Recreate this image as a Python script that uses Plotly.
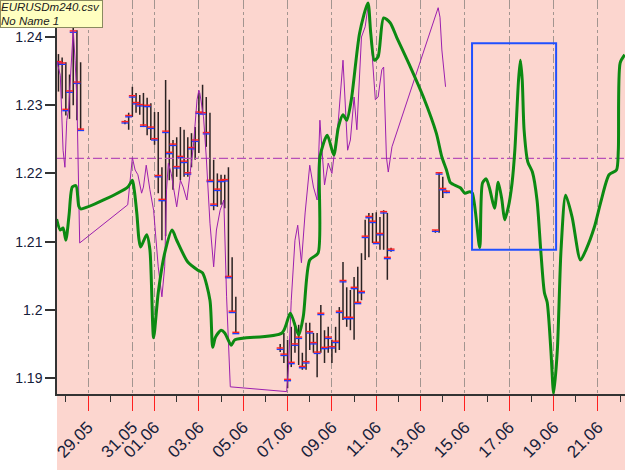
import plotly.graph_objects as go
import pandas as pd

# ---------------- data ----------------
# 4-hour bar sessions: (first bar time, number of bars)
BAR_SESSIONS = [("2010-05-27 16:00", 7), ("2010-05-30 16:00", 31),
                ("2010-06-06 16:00", 31), ("2010-06-13 16:00", 4)]

HIGH = [1.2375, 1.2370, 1.2363, 1.2345, 1.2418, 1.2410, 1.2363,
        1.2278, 1.2289, 1.2327, 1.2318, 1.2315, 1.2318, 1.2311, 1.2303, 1.2290, 1.2290,
        1.2209, 1.2337, 1.2308, 1.2249, 1.2253, 1.2268, 1.2264, 1.2253, 1.2259, 1.2268,
        1.2318, 1.2330, 1.2312, 1.2289, 1.2220, 1.2200, 1.2198, 1.2198, 1.2209, 1.2077, 1.2019,
        1.1950, 1.1966, 1.1956, 1.1975, 1.1981, 1.1978, 1.1937, 1.1981, 1.1981, 1.1966,
        1.1966, 1.2007, 1.1970, 1.1975, 1.1956, 1.1975, 1.2004, 1.2070, 1.2033, 1.2029,
        1.2048, 1.2063, 1.2083, 1.2132, 1.2142, 1.2142, 1.2143, 1.2136, 1.2146, 1.2142, 1.2091,
        1.2117, 1.2202, 1.2195, 1.2175]
LOW = [1.2320, 1.2310, 1.2285, 1.2280, 1.2300, 1.2278, 1.2264,
       1.2272, 1.2264, 1.2283, 1.2289, 1.2286, 1.2268, 1.2256, 1.2249, 1.2242, 1.2171,
       1.2102, 1.2108, 1.2190, 1.2176, 1.2195, 1.2190, 1.2195, 1.2195, 1.2209, 1.2220,
       1.2230, 1.2289, 1.2239, 1.2190, 1.2146, 1.2151, 1.2154, 1.2149, 1.2048, 1.1997, 1.1966,
       1.1938, 1.1922, 1.1885, 1.1916, 1.1937, 1.1919, 1.1912, 1.1912, 1.1941, 1.1937,
       1.1901, 1.1937, 1.1922, 1.1937, 1.1922, 1.1937, 1.1941, 1.1985, 1.1975, 1.1970,
       1.1956, 1.2010, 1.2014, 1.2073, 1.2077, 1.2098, 1.2098, 1.2088, 1.2088, 1.2044, 1.2085,
       1.2113, 1.2113, 1.2164, 1.2171]
CLOSE = [1.2363, 1.2361, 1.2293, 1.2320, 1.2408, 1.2333, 1.2264,
         1.2275, 1.2284, 1.2313, 1.2303, 1.2300, 1.2270, 1.2299, 1.2267, 1.2250, 1.2196,
         1.2161, 1.2261, 1.2230, 1.2242, 1.2209, 1.2224, 1.2217, 1.2200, 1.2237, 1.2248,
         1.2289, 1.2288, 1.2259, 1.2189, 1.2154, 1.2176, 1.2189, 1.2190, 1.2048, 1.1997, 1.1966,
         1.1943, 1.1934, 1.1897, 1.1922, 1.1949, 1.1959, 1.1916, 1.1923, 1.1967, 1.1951,
         1.1937, 1.1994, 1.1944, 1.1959, 1.1945, 1.1953, 1.1997, 1.2042, 1.1988, 1.1988,
         1.2032, 1.2010, 1.2026, 1.2107, 1.2136, 1.2129, 1.2098, 1.2111, 1.2143, 1.2076, 1.2088,
         1.2116, 1.2200, 1.2177, 1.2173]

PURPLE_T = ["2010-05-27 14:00", "2010-05-27 18:00", "2010-05-27 21:00", "2010-05-27 23:00",
            "2010-05-28 01:00", "2010-05-28 03:00", "2010-05-28 05:00", "2010-05-28 07:00",
            "2010-05-28 08:00", "2010-05-28 10:00", "2010-05-28 12:00", "2010-05-28 15:00",
            "2010-05-30 19:00", "2010-05-31 00:00", "2010-05-31 03:00", "2010-05-31 06:00",
            "2010-05-31 10:00", "2010-05-31 12:00", "2010-05-31 15:00", "2010-05-31 19:00",
            "2010-05-31 23:00", "2010-06-01 04:00", "2010-06-01 08:00", "2010-06-01 11:00",
            "2010-06-01 13:00", "2010-06-01 15:00", "2010-06-01 18:00", "2010-06-02 00:00",
            "2010-06-02 04:00", "2010-06-02 07:00", "2010-06-02 11:00", "2010-06-02 14:00",
            "2010-06-02 18:00", "2010-06-02 22:00", "2010-06-03 00:00", "2010-06-03 01:00",
            "2010-06-03 05:00", "2010-06-03 08:00", "2010-06-03 12:00", "2010-06-03 16:00",
            "2010-06-03 19:00", "2010-06-03 23:00", "2010-06-04 03:00", "2010-06-04 06:00",
            "2010-06-04 10:00", "2010-06-06 23:00", "2010-06-07 01:00", "2010-06-07 04:00",
            "2010-06-07 08:00", "2010-06-07 11:00", "2010-06-07 15:00", "2010-06-07 19:00",
            "2010-06-08 00:00", "2010-06-08 04:00", "2010-06-08 08:00", "2010-06-08 11:00",
            "2010-06-08 13:00", "2010-06-08 16:00", "2010-06-08 20:00", "2010-06-09 00:00",
            "2010-06-09 03:00", "2010-06-09 07:00", "2010-06-09 12:00", "2010-06-09 14:00",
            "2010-06-09 17:00", "2010-06-09 20:00", "2010-06-10 00:00", "2010-06-10 03:00",
            "2010-06-10 08:00", "2010-06-10 12:00", "2010-06-10 15:00", "2010-06-10 19:00",
            "2010-06-10 23:00", "2010-06-11 02:00", "2010-06-11 06:00", "2010-06-11 08:00",
            "2010-06-11 09:00", "2010-06-11 11:00", "2010-06-11 13:00", "2010-06-11 17:00",
            "2010-06-13 19:00", "2010-06-13 21:00", "2010-06-13 23:00", "2010-06-14 03:00"]
PURPLE_V = [1.2366, 1.2344, 1.2234, 1.2209, 1.2278, 1.2293, 1.2341, 1.2396,
            1.2410, 1.2366, 1.2308, 1.2098,
            1.2154, 1.2223, 1.2205, 1.2198, 1.2171, 1.2180, 1.2212, 1.2176,
            1.2146, 1.2063, 1.2019, 1.2063, 1.2176, 1.2215, 1.2200, 1.2151,
            1.2190, 1.2180, 1.2161, 1.2195, 1.2239, 1.2308, 1.2322, 1.2318,
            1.2283, 1.2224, 1.2127, 1.2063, 1.2117, 1.2146, 1.2161, 1.2019,
            1.1887, 1.1880, 1.1916, 1.2014, 1.2102, 1.2124, 1.2069, 1.2142,
            1.2212, 1.2180, 1.2161, 1.2278, 1.2234, 1.2183, 1.2215, 1.2200,
            1.2234, 1.2278, 1.2366, 1.2318, 1.2234, 1.2249, 1.2312, 1.2264,
            1.2400, 1.2415, 1.2444, 1.2385, 1.2308, 1.2312, 1.2352, 1.2356,
            1.2308, 1.2224, 1.2202, 1.2239, 1.2443, 1.2429, 1.2381, 1.2327]

GREEN_T = ["2010-05-27 14:00", "2010-05-27 18:00", "2010-05-27 21:00", "2010-05-28 00:00",
           "2010-05-28 03:30", "2010-05-28 07:00", "2010-05-28 11:00", "2010-05-28 14:00",
           "2010-05-28 16:00", "2010-05-30 19:00", "2010-05-31 00:00", "2010-05-31 02:00",
           "2010-05-31 05:00", "2010-05-31 07:00", "2010-05-31 09:00", "2010-05-31 15:30",
           "2010-05-31 19:00", "2010-05-31 23:00", "2010-06-01 04:00", "2010-06-01 11:00",
           "2010-06-01 19:00", "2010-06-02 00:00", "2010-06-02 12:00", "2010-06-02 23:00",
           "2010-06-03 04:00", "2010-06-03 12:00", "2010-06-03 15:00", "2010-06-03 18:00",
           "2010-06-04 00:00", "2010-06-04 04:00", "2010-06-04 11:00", "2010-06-04 15:00",
           "2010-06-06 18:00", "2010-06-07 03:00", "2010-06-07 12:00", "2010-06-07 17:00",
           "2010-06-08 00:00", "2010-06-08 09:00", "2010-06-08 11:00", "2010-06-08 19:00",
           "2010-06-09 02:00", "2010-06-09 07:00", "2010-06-09 12:00", "2010-06-09 16:00",
           "2010-06-09 21:00", "2010-06-10 06:00", "2010-06-10 15:00", "2010-06-10 18:00",
           "2010-06-10 22:00", "2010-06-11 02:00", "2010-06-11 08:00", "2010-06-11 15:00",
           "2010-06-11 22:00", "2010-06-12 13:00", "2010-06-13 03:00", "2010-06-13 17:00",
           "2010-06-13 23:00", "2010-06-14 04:00", "2010-06-14 08:00", "2010-06-14 11:00",
           "2010-06-14 19:00", "2010-06-15 00:00", "2010-06-15 05:00", "2010-06-15 08:00",
           "2010-06-15 16:00", "2010-06-15 19:00", "2010-06-15 23:00", "2010-06-16 03:00",
           "2010-06-16 08:00", "2010-06-16 12:00", "2010-06-16 16:00", "2010-06-16 19:00",
           "2010-06-16 23:00", "2010-06-17 03:00", "2010-06-17 06:00", "2010-06-17 10:00",
           "2010-06-17 12:00", "2010-06-17 14:00", "2010-06-17 16:00", "2010-06-17 20:00",
           "2010-06-18 01:00", "2010-06-18 06:00", "2010-06-18 10:00", "2010-06-18 14:00",
           "2010-06-18 17:00", "2010-06-18 21:00", "2010-06-19 00:00", "2010-06-19 04:00",
           "2010-06-19 08:00", "2010-06-19 13:00", "2010-06-19 20:00", "2010-06-20 05:00",
           "2010-06-20 11:00", "2010-06-20 20:00", "2010-06-21 03:00", "2010-06-21 12:00",
           "2010-06-21 20:00", "2010-06-21 22:00", "2010-06-22 00:00", "2010-06-22 05:00"]
GREEN_V = [1.2133, 1.2117, 1.2120, 1.2102, 1.2139, 1.2180, 1.2182, 1.2152,
           1.2148, 1.2180, 1.2190, 1.2176, 1.2139, 1.2105, 1.2092, 1.2110,
           1.2088, 1.1959, 1.2025, 1.2083, 1.2117, 1.2102, 1.2070, 1.2058,
           1.2054, 1.2014, 1.1945, 1.1960, 1.1970, 1.1966, 1.1948, 1.1956,
           1.1966, 1.1995, 1.1963, 1.1990, 1.2073, 1.2083, 1.2224, 1.2256,
           1.2227, 1.2268, 1.2286, 1.2278, 1.2308, 1.2406, 1.2450, 1.2406,
           1.2366, 1.2371, 1.2428, 1.2421, 1.2400, 1.2356, 1.2312, 1.2259,
           1.2224, 1.2205, 1.2187, 1.2184, 1.2179, 1.2171, 1.2173, 1.2171,
           1.2091, 1.2186, 1.2192, 1.2176, 1.2149, 1.2187, 1.2161, 1.2132,
           1.2151, 1.2186, 1.2234, 1.2337, 1.2366, 1.2337, 1.2264, 1.2217,
           1.2202, 1.2161, 1.2088, 1.2025, 1.2011, 1.1941, 1.1877, 1.1941,
           1.2088, 1.2168, 1.2136, 1.2073, 1.2088, 1.2121, 1.2158, 1.2198,
           1.2205, 1.2234, 1.2362, 1.2374]

LEVEL = 1.2222
BOX_T = ("2010-06-15 07:40", "2010-06-19 02:40")
BOX_V = (1.2088, 1.2391)

MAJOR_DATES = ["2010-05-29", "2010-05-31", "2010-06-01", "2010-06-03", "2010-06-05",
               "2010-06-07", "2010-06-09", "2010-06-11", "2010-06-13", "2010-06-15",
               "2010-06-17", "2010-06-19", "2010-06-21"]
MAJOR_LABELS = ["29.05", "31.05", "01.06", "03.06", "05.06", "07.06", "09.06",
                "11.06", "13.06", "15.06", "17.06", "19.06", "21.06"]
MINOR_DATES = ["2010-05-28", "2010-05-30", "2010-06-02", "2010-06-04", "2010-06-06",
               "2010-06-08", "2010-06-10", "2010-06-12", "2010-06-14", "2010-06-16",
               "2010-06-18", "2010-06-20", "2010-06-22"]
Y_TICKS = [1.19, 1.20, 1.21, 1.22, 1.23, 1.24]
Y_LABELS = ["1.19", "1.2", "1.21", "1.22", "1.23", "1.24"]

X_RANGE = ["2010-05-27 14:26", "2010-06-22 05:14"]
Y_RANGE = [1.18765, 1.24543]

# ---------------- figure ----------------
PINK = "#fcd6cf"
bar_times = []
for start, n in BAR_SESSIONS:
    bar_times += list(pd.date_range(start, periods=n, freq="4h"))

fig = go.Figure()

bx, by = [], []
for t, h, l in zip(bar_times, HIGH, LOW):
    bx += [t, t, None]
    by += [l, h, None]
fig.add_trace(go.Scatter(x=bx, y=by, mode="lines", line=dict(color="#2a2222", width=1.5),
                         hoverinfo="skip", showlegend=False))

TICK_SPLIT = 0.0001
fig.add_trace(go.Scatter(x=bar_times, y=[c - TICK_SPLIT for c in CLOSE], mode="markers",
                         marker=dict(symbol="line-ew", size=5, line=dict(color="#1f3cff", width=1.4)),
                         hoverinfo="skip", showlegend=False))
fig.add_trace(go.Scatter(x=bar_times, y=[c + TICK_SPLIT for c in CLOSE], mode="markers",
                         marker=dict(symbol="line-ew", size=5, line=dict(color="#ff2020", width=1.4)),
                         hoverinfo="skip", showlegend=False))

fig.add_trace(go.Scatter(x=X_RANGE, y=[LEVEL, LEVEL], mode="lines",
                         line=dict(color="#b850b8", width=1.3, dash="dashdot"),
                         hoverinfo="skip", showlegend=False))

fig.add_trace(go.Scatter(x=PURPLE_T, y=PURPLE_V, mode="lines",
                         line=dict(color="#9c1fae", width=1),
                         hoverinfo="skip", showlegend=False))
fig.add_trace(go.Scatter(x=GREEN_T, y=GREEN_V, mode="lines",
                         line=dict(color="#0c8a12", width=3, shape="spline", smoothing=0.7),
                         hoverinfo="skip", showlegend=False))

fig.add_shape(type="rect", xref="x", yref="y", x0=BOX_T[0], x1=BOX_T[1],
              y0=BOX_V[0], y1=BOX_V[1], line=dict(color="#2050ff", width=2), layer="above")

# pink band under the plot for the date labels
fig.add_shape(type="rect", xref="paper", yref="paper", x0=0, x1=1, y0=-0.2, y1=0,
              fillcolor=PINK, line=dict(width=0), layer="below")

fig.add_annotation(xref="paper", yref="paper", x=-57 / 568, y=1, xanchor="left", yanchor="top",
                   text="<i>EURUSDm240.csv</i><br><i>No Name 1</i>", showarrow=False, align="left",
                   font=dict(family="Liberation Sans, Arial", size=11.5, color="#202020"),
                   bgcolor="#ffffc0", bordercolor="#8a8a60", borderwidth=1, borderpad=0,
                   width=101, height=26)

fig.update_layout(
    width=625, height=470,
    margin=dict(l=57, r=0, t=0, b=76),
    paper_bgcolor="white", plot_bgcolor=PINK,
    showlegend=False,
    xaxis=dict(type="date", range=X_RANGE, tickmode="array",
               tickvals=MAJOR_DATES, ticktext=MAJOR_LABELS, tickangle=-45,
               ticks="outside", ticklen=15, tickcolor="#ff2020", tickwidth=1,
               tickfont=dict(family="Liberation Sans, Arial", size=17, color="#15203a"),
               showgrid=True, gridcolor="#a29590", gridwidth=1, griddash="dashdot",
               showline=True, linecolor="#333333", linewidth=1.5, zeroline=False,
               minor=dict(tickmode="array", tickvals=MINOR_DATES, ticks="outside",
                          ticklen=6, tickcolor="#333333", tickwidth=1, showgrid=False)),
    yaxis=dict(range=Y_RANGE, tickmode="array", tickvals=Y_TICKS, ticktext=Y_LABELS,
               ticks="outside", ticklen=10, tickcolor="#333333", tickwidth=1.5,
               tickfont=dict(family="Liberation Sans, Arial", size=14, color="#15203a"),
               showgrid=False, showline=True, linecolor="#333333", linewidth=1.5,
               zeroline=False),
)

fig.write_html("out.html")
